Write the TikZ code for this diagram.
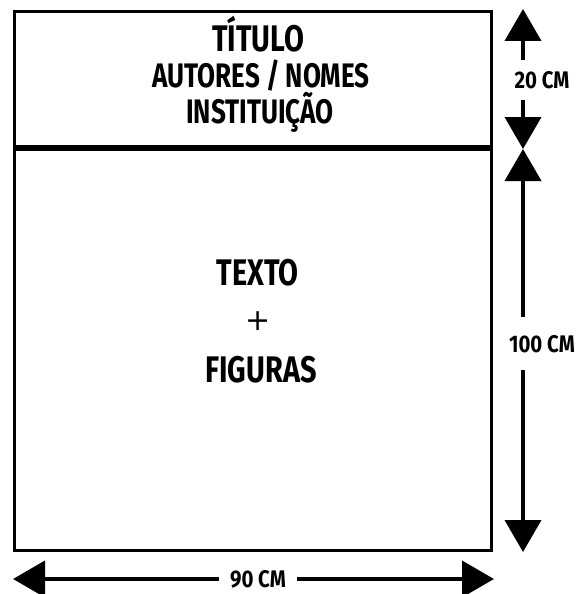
\documentclass[tikz,border=0pt]{standalone}
\usepackage{fontspec}
\newfontfamily\condfont{Fira Sans}[FakeStretch=0.78]
\newfontfamily\headfont{Fira Sans}[FakeStretch=0.766]
\newfontfamily\labfont{Fira Sans}[FakeStretch=0.85]
\newfontfamily\plusfont{DejaVu Sans}
\usetikzlibrary{arrows.meta}
\begin{document}
\begin{tikzpicture}[x=1pt,y=-1pt,
  frame/.style={line width=3pt, draw=black},
  divider/.style={line width=6pt, draw=black},
  dimline/.style={line width=4pt, -{Triangle[length=32pt,width=36pt]}},
  dimlabel/.style={font=\labfont\bfseries\fontsize{24}{24}\selectfont, text height=17pt, text depth=0pt, inner ysep=12pt, inner xsep=11pt},
  bigtext/.style={font=\condfont\bfseries\fontsize{37}{37}\selectfont, inner sep=0pt, anchor=base},
  midtext/.style={font=\headfont\bfseries\fontsize{34}{34}\selectfont, inner sep=0pt, anchor=base},
  plustext/.style={font=\plusfont\fontsize{30}{30}\selectfont, inner sep=0pt}]
\useasboundingbox (0,0) rectangle (579,594);
\fill[white] (0,0) rectangle (579,594);
% frame
\coordinate (tl) at (14.5,11.5);
\coordinate (br) at (491.5,550.5);
\draw[frame] (tl) rectangle (br);
\coordinate (dl) at (14.5,148);
\coordinate (dr) at (491.5,148);
\draw[divider] (dl) -- (dr);
% header texts
\node[bigtext] (titulo) at (258,52) {TÍTULO};
\node[midtext] (autores) at (261,88) {AUTORES / NOMES};
\node[midtext] (inst) at (260,123) {INSTITUIÇÃO};
% body texts
\node[bigtext] (texto) at (257.5,285) {TEXTO};
\node[plustext] (plus) at (258.5,321.5) {+};
\node[bigtext] (figuras) at (261,382) {FIGURAS};
% vertical dimensions
\coordinate (v1top) at (523,9);
\coordinate (vmid) at (523,149);
\coordinate (v2bot) at (523,552);
\node[dimlabel, inner ysep=11.5pt] (l20) at (542,80) {20 CM};
\draw[dimline] (v1top |- l20.north) -- (v1top);
\draw[dimline] (vmid |- l20.south) -- (vmid);
\node[dimlabel, inner ysep=18pt] (l100) at (542,343.5) {100 CM};
\draw[dimline] (vmid |- l100.north) -- (vmid);
\draw[dimline] (v2bot |- l100.south) -- (v2bot);
% horizontal dimension
\coordinate (hl) at (13,579);
\coordinate (hr) at (494,579);
\node[dimlabel] (l90) at (258,579) {90 CM};
\draw[dimline] (l90.west) -- (hl);
\draw[dimline] (l90.east) -- (hr);
\end{tikzpicture}
\end{document}
